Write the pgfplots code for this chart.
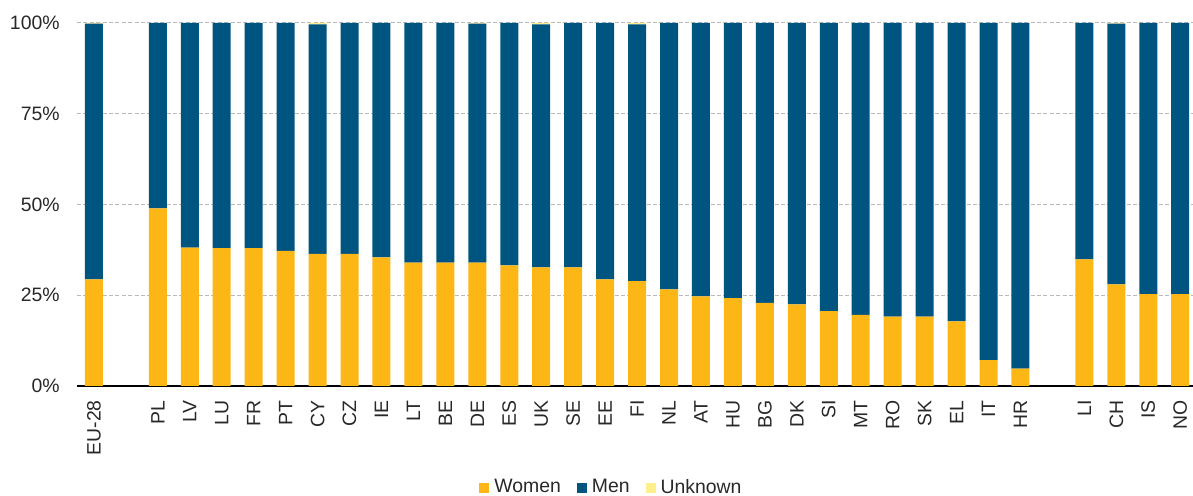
\documentclass[border=0pt]{standalone}
\usepackage{pgfplots}
\pgfplotsset{compat=1.18}
\usepackage{pgfplotstable}
\usepackage{fontspec}
\setmainfont{Liberation Sans}
\definecolor{cW}{RGB}{252,182,22}
\definecolor{cM}{RGB}{0,85,128}
\definecolor{cU}{RGB}{255,238,140}
\definecolor{cT}{RGB}{40,40,40}
\pgfplotstableread{
x W M U
0 29.4 70.4 0.2
2 48.9 51.1 0
3 38.1 61.9 0
4 38.0 62.0 0
5 38.0 62.0 0
6 37.2 62.8 0
7 36.4 63.2 0.4
8 36.4 63.6 0
9 35.4 64.6 0
10 34.0 66.0 0
11 34.0 66.0 0
12 34.0 65.8 0.2
13 33.2 66.8 0
14 32.7 66.9 0.4
15 32.7 67.3 0
16 29.4 70.6 0
17 28.9 70.7 0.4
18 26.6 73.4 0
19 24.7 75.3 0
20 24.2 75.8 0
21 22.9 77.1 0
22 22.5 77.5 0
23 20.6 79.4 0
24 19.6 80.4 0
25 19.1 80.9 0
26 19.1 80.9 0
27 17.8 82.2 0
28 7.1 92.9 0
29 4.8 95.2 0
31 34.9 65.1 0
32 28.0 71.8 0.2
33 25.3 74.7 0
34 25.3 74.7 0
}\data
\begin{document}
\begin{tikzpicture}
\useasboundingbox (-38.5pt,-55pt) rectangle (558pt,193pt);
\begin{axis}[
  at={(0pt,0pt)}, anchor=south west,
  scale only axis, width=558pt, height=181.5pt,
  ybar stacked, bar width=9pt,
  xmin=-0.53, xmax=34.4, ymin=0, ymax=100,
  xtick={0,2,3,4,5,6,7,8,9,10,11,12,13,14,15,16,17,18,19,20,21,22,23,24,25,26,27,28,29,31,32,33,34},
  xticklabels={EU-28,PL,LV,LU,FR,PT,CY,CZ,IE,LT,BE,DE,ES,UK,SE,EE,FI,NL,AT,HU,BG,DK,SI,MT,RO,SK,EL,IT,HR,LI,CH,IS,NO},
  ytick={0,25,50,75,100},
  yticklabels={0\%,25\%,50\%,75\%,100\%},
  axis x line*=bottom, axis y line*=left,
  y axis line style={draw=none},
  x axis line style={-, black, line width=0.75pt},
  tick style={draw=none},
  ymajorgrids, grid style={gray!55, line width=0.5pt, dash pattern=on 2pt off 1.2pt},
  ticklabel style={font=\fontsize{9.7}{11}\selectfont, text=cT},
  xticklabel style={yshift=-7pt, rotate=90, anchor=east, inner sep=0pt},
  yticklabel style={anchor=east, inner sep=0pt, xshift=-8.5pt},
  legend style={at={(0.478,-0.28)}, anchor=center, draw=none, fill=none,
    legend columns=-1, font=\fontsize{9.7}{11}\selectfont, text=cT,
    /tikz/every odd column/.append style={column sep=2.5pt},
    /tikz/every even column/.append style={column sep=8pt},
    nodes={inner sep=0pt}},
  legend image code/.code={\fill[#1] (-2.5pt,-2.5pt) rectangle (2.5pt,2.5pt);},
]
\addplot[fill=cW, draw=none] table[x=x,y=W]{\data};
\addplot[fill=cM, draw=none] table[x=x,y=M]{\data};
\addplot[fill=cU, draw=none] table[x=x,y=U]{\data};
\legend{Women,Men,Unknown}
\end{axis}
\end{tikzpicture}
\end{document}
